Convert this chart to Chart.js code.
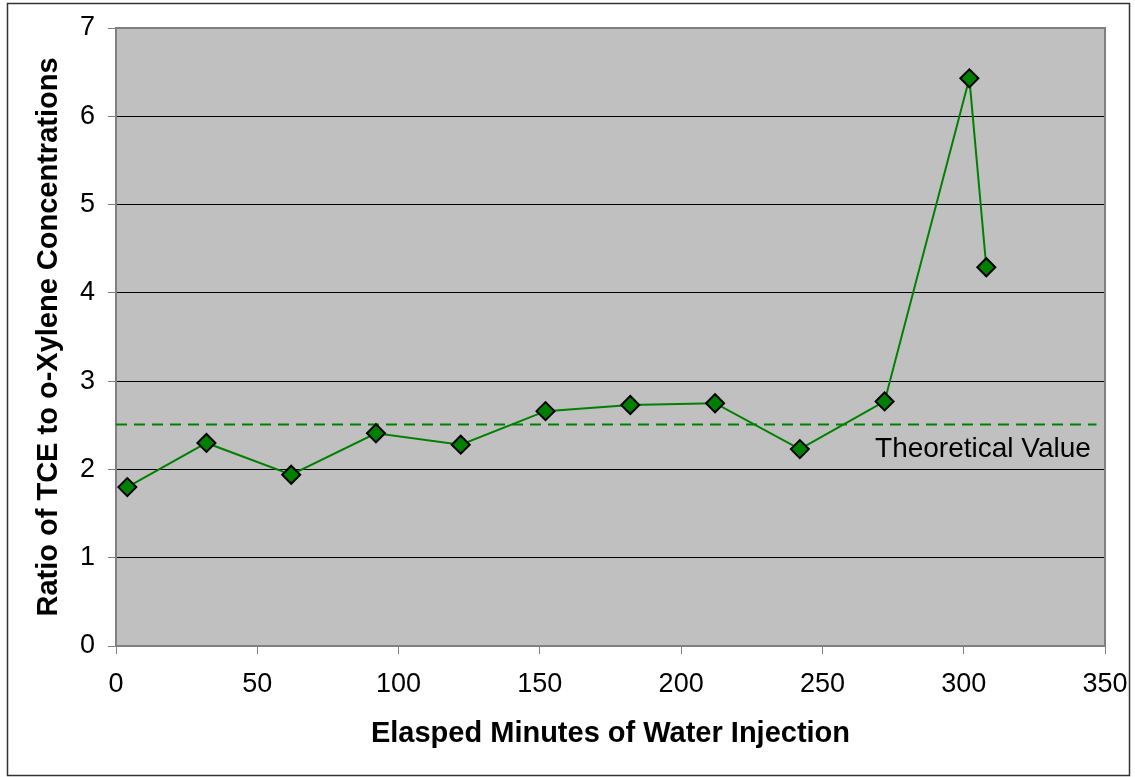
<!DOCTYPE html>
<html>
<head>
<meta charset="utf-8">
<script src="https://cdn.jsdelivr.net/npm/chart.js@4/dist/chart.umd.min.js"></script>
<style>
  body { margin: 0; background: #fff; }
  canvas { display: block; }
</style>
</head>
<body>
<canvas id="grafico" width="1135" height="777"></canvas>
<script>
// Elapsed minutes and measured TCE / o-xylene ratio
const minutes = [4, 32, 62, 92, 122, 152, 182, 212, 242, 272, 302, 308];
const ratio = [1.80, 2.30, 1.94, 2.41, 2.28, 2.66, 2.73, 2.75, 2.23, 2.77, 6.43, 4.29];

// Theoretical ratio, drawn as a dashed reference line
const theoreticalRatio = 2.51;
const theoreticalSpan = [0, 347];

// Axis ranges / tick spacing
const xTicks = [0, 50, 100, 150, 200, 250, 300, 350];
const yTicks = [0, 1, 2, 3, 4, 5, 6, 7];

const FONT = 'Arial, "Liberation Sans", sans-serif';

// gray plot background, plot frame, outer frame and the line label
const plotFrame = {
    id: 'plotFrame',
    beforeDraw(chart) {
        const { ctx, chartArea: a } = chart;
        ctx.save();
        ctx.fillStyle = '#c0c0c0';
        ctx.fillRect(a.left, a.top, a.right - a.left, a.bottom - a.top);
        ctx.restore();
    },
    afterDraw(chart) {
        const { ctx, chartArea: a } = chart;
        ctx.save();
        ctx.strokeStyle = '#808080';
        ctx.lineWidth = 2;
        ctx.beginPath();
        ctx.moveTo(a.left, a.top);
        ctx.lineTo(a.right, a.top);
        ctx.lineTo(a.right, a.bottom);
        ctx.stroke();
        // outer border
        ctx.strokeStyle = '#333';
        ctx.lineWidth = 1.5;
        ctx.strokeRect(7.5, 3.5, 1122, 772);
        ctx.restore();
    },
    afterDatasetsDraw(chart) {
        const { ctx, scales } = chart;
        ctx.save();
        ctx.font = '28px ' + FONT;
        ctx.fillStyle = '#000';
        ctx.textAlign = 'right';
        ctx.textBaseline = 'alphabetic';
        ctx.fillText('Theoretical Value', scales.x.getPixelForValue(345), scales.y.getPixelForValue(theoreticalRatio) + 33);
        ctx.restore();
    }
};

const ctx = document.getElementById('grafico').getContext('2d');
new Chart(ctx, {
    type: 'scatter',
    data: {
        datasets: [
            {
                label: 'Ratio',
                data: minutes.map((m, i) => ({ x: m, y: ratio[i] })),
                showLine: true,
                borderColor: '#008000',
                borderWidth: 2,
                pointStyle: 'rectRot',
                pointRadius: 9,
                pointBackgroundColor: '#008000',
                pointBorderColor: '#000',
                pointBorderWidth: 2,
                order: 1
            },
            {
                label: 'Theoretical Value',
                data: theoreticalSpan.map(m => ({ x: m, y: theoreticalRatio })),
                showLine: true,
                borderColor: '#008000',
                borderWidth: 2,
                borderDash: [11, 7],
                pointRadius: 0,
                order: 2
            }
        ]
    },
    options: {
        responsive: false,
        animation: false,
        layout: { padding: { top: 28, right: 30, bottom: 0, left: 0 } },
        plugins: {
            legend: { display: false },
            tooltip: { enabled: false }
        },
        scales: {
            x: {
                type: 'linear',
                min: xTicks[0],
                max: xTicks[xTicks.length - 1],
                afterBuildTicks: axis => { axis.ticks = xTicks.map(v => ({ value: v })); },
                afterFit: axis => {
                    axis.height = 131;
                    axis.paddingLeft = 0;
                    axis.paddingRight = 0;
                },
                ticks: { color: '#000', font: { family: FONT, size: 27 }, padding: 14, maxRotation: 0 },
                grid: { drawOnChartArea: false, tickLength: 8, tickColor: '#808080', tickWidth: 1 },
                border: { color: '#808080', width: 2 },
                title: {
                    display: true,
                    text: 'Elasped Minutes of Water Injection',
                    color: '#000',
                    font: { family: FONT, size: 29, weight: 'bold' },
                    padding: { top: 0, bottom: 26 }
                }
            },
            y: {
                min: yTicks[0],
                max: yTicks[yTicks.length - 1],
                afterBuildTicks: axis => { axis.ticks = yTicks.map(v => ({ value: v })); },
                afterFit: axis => {
                    axis.width = 116;
                    axis.paddingTop = 0;
                    axis.paddingBottom = 0;
                },
                ticks: { color: '#000', font: { family: FONT, size: 27 }, padding: 13 },
                grid: {
                    color: c => (c.tick && c.tick.value > yTicks[0] && c.tick.value < yTicks[yTicks.length - 1]) ? '#000' : 'rgba(0,0,0,0)',
                    lineWidth: 1,
                    tickLength: 8,
                    tickColor: '#808080'
                },
                border: { color: '#808080', width: 2 },
                title: {
                    display: true,
                    text: 'Ratio of TCE to o-Xylene Concentrations',
                    color: '#000',
                    font: { family: FONT, size: 29, weight: 'bold' },
                    padding: { top: 32, bottom: 0 }
                }
            }
        }
    },
    plugins: [plotFrame]
});
</script>
</body>
</html>
